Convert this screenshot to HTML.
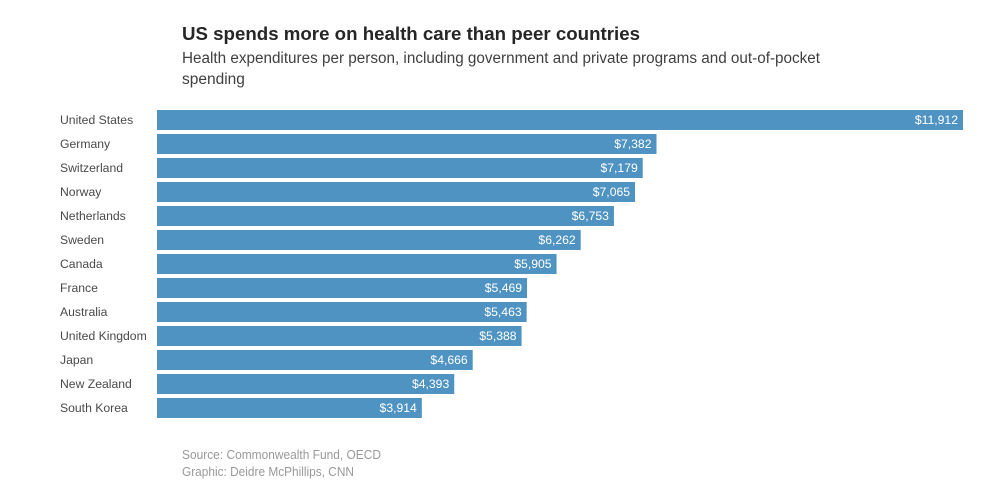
<!DOCTYPE html>
<html lang="en">
<head>
<meta charset="utf-8">
<title>US spends more on health care than peer countries</title>
<style>
html,body{margin:0;padding:0;background:#fff;width:986px;height:492px;overflow:hidden}
svg{display:block;font-family:"Liberation Sans",sans-serif}
</style>
</head>
<body>
<svg id="chart" width="986" height="492" viewBox="0 0 986 492" xmlns="http://www.w3.org/2000/svg">
<rect width="986" height="492" fill="#fff"/>
<text x="182" y="40" font-size="18" font-weight="700" fill="#262626" textLength="458" lengthAdjust="spacingAndGlyphs">US spends more on health care than peer countries</text>
<text x="182" y="63" font-size="15.5" fill="#404040" textLength="638" lengthAdjust="spacingAndGlyphs">Health expenditures per person, including government and private programs and out-of-pocket</text>
<text x="182" y="84" font-size="15.5" fill="#404040">spending</text>
<g id="rows"></g>
<text x="182" y="459" font-size="12.5" fill="#999" textLength="199" lengthAdjust="spacingAndGlyphs">Source: Commonwealth Fund, OECD</text>
<text x="182" y="476" font-size="12.5" fill="#999" textLength="172" lengthAdjust="spacingAndGlyphs">Graphic: Deidre McPhillips, CNN</text>
</svg>
<script>
const countries = ["United States","Germany","Switzerland","Norway","Netherlands","Sweden","Canada","France","Australia","United Kingdom","Japan","New Zealand","South Korea"];
const spending = [11912,7382,7179,7065,6753,6262,5905,5469,5463,5388,4666,4393,3914];

const NS = "http://www.w3.org/2000/svg";
const rows = document.getElementById("rows");
const xStart = 157, xEnd = 963, yStart = 110, rowStep = 24, barHeight = 20;
const xScale = function (v) { return (v / 11912) * (xEnd - xStart); };
const yScale = function (i) { return yStart + i * rowStep; };
const money = function (v) { return "$" + v.toLocaleString("en-US"); };

countries.forEach(function (name, i) {
  const v = spending[i];
  const y = yScale(i);
  const w = xScale(v);
  const slug = name.toLowerCase().replace(/\s+/g, "-");

  const label = document.createElementNS(NS, "text");
  
  
  label.setAttribute("x", 60);
  label.setAttribute("y", y + 14);
  label.setAttribute("font-size", "12.2");
  label.setAttribute("fill", "#4a4a4a");
  label.textContent = name;
  rows.appendChild(label);

  const bar = document.createElementNS(NS, "rect");
  
  
  bar.setAttribute("x", xStart);
  bar.setAttribute("y", y);
  bar.setAttribute("width", w);
  bar.setAttribute("height", barHeight);
  bar.setAttribute("fill", "#4f93c3");
  rows.appendChild(bar);

  const value = document.createElementNS(NS, "text");
  
  
  value.setAttribute("x", xStart + w - 5);
  value.setAttribute("y", y + 14);
  value.setAttribute("font-size", "12.2");
  value.setAttribute("text-anchor", "end");
  value.setAttribute("fill", "#fff");
  value.textContent = money(v);
  rows.appendChild(value);
});
</script>
</body>
</html>
